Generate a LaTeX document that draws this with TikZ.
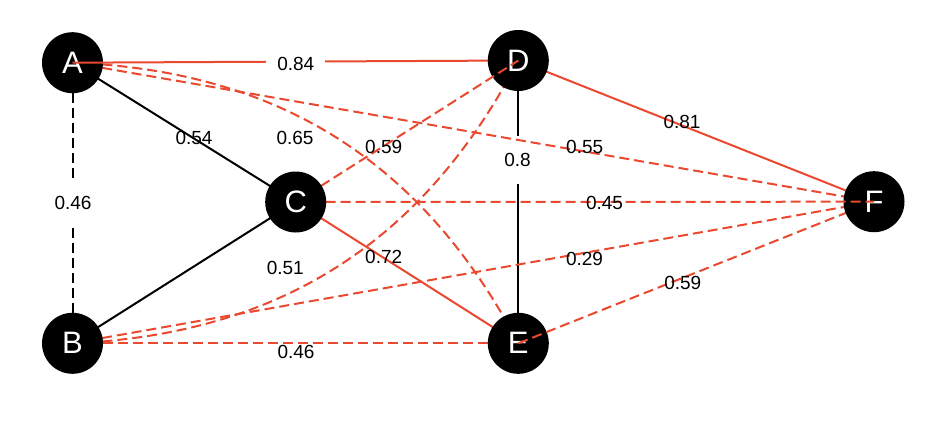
\documentclass[tikz,border=0pt]{standalone}
\usepackage{fontspec}
\setmainfont{Liberation Sans}
\definecolor{edgered}{RGB}{234,72,47}
\pgfdeclarelayer{L1}
\pgfdeclarelayer{L2}
\pgfdeclarelayer{L3}
\pgfdeclarelayer{L4}
\pgfdeclarelayer{L5}
\pgfdeclarelayer{L6}
\pgfsetlayers{L1,L2,L3,L4,L5,L6,main}
\tikzset{
  vtx/.style={circle, fill=black, minimum size=61pt, inner sep=0pt, text=white, font=\fontsize{31}{31}\selectfont},
  redline/.style={draw=edgered, line width=2pt},
  blackline/.style={draw=black, line width=2pt},
  dsh/.style={dash pattern=on 10pt off 5pt},
  wlabel/.style={font=\fontsize{19}{19}\selectfont, inner sep=0pt, text=black},
  blank/.style={fill=white, inner xsep=11pt, inner ysep=17pt}
}
\begin{document}
\begin{tikzpicture}[x=1pt,y=-1pt]
\useasboundingbox (0,0) rectangle (936,428);
\begin{pgfonlayer}{L1}
\fill[white] (0,0) rectangle (936,428);
\end{pgfonlayer}
% nodes
\begin{pgfonlayer}{L2}
\node[vtx] (A) at (72.5,62.7) {A};
\node[vtx] (B) at (72.5,343.3) {B};
\node[vtx] (E) at (518.3,343.3) {E};
\end{pgfonlayer}
\begin{pgfonlayer}{L4}
\node[vtx] (D) at (518.3,60.5) {D};
\node[vtx] (F) at (874,201.7) {F};
\end{pgfonlayer}
\begin{pgfonlayer}{L6}
\node[vtx] (C) at (295.7,202) {C};
\end{pgfonlayer}
% edges below all nodes
\begin{pgfonlayer}{L1}
\draw[blackline,dsh] (A.center) -- (B.center);
\node[wlabel,blank] (lAB) at (73,203) {0.46};
\draw[blackline] (D.center) -- (E.center);
\node[wlabel,blank] (lDE) at (517.5,160) {0.8};
\draw[blackline] (A.center) -- (C.center);
\draw[redline,dsh] (A.center) to[bend left=30] (E.center);
\draw[redline,dsh] (A.center) -- (F.center);
\draw[blackline] (B.center) -- (C.center);
\draw[redline,dsh] (B.center) to[bend right=30] (D.center);
\draw[redline,dsh] (B.center) -- (E.center);
\draw[redline,dsh] (B.center) -- (F.center);
\draw[redline] (C.center) -- (E.center);
\draw[redline] (D.center) -- (F.center);
\end{pgfonlayer}
\begin{pgfonlayer}{L3}
\draw[redline,dsh] (E.center) -- (F.center);
\draw[redline] (A.center) -- (D.center);
\node[wlabel,blank] (lAD) at (295.8,64) {0.84};
\end{pgfonlayer}
\begin{pgfonlayer}{L5}
\draw[redline,dsh] (C.center) -- (F.center);
\draw[redline,dsh] (C.center) -- (D.center);
\end{pgfonlayer}
% labels
\node[wlabel] (lAC) at (194,137.7) {0.54};
\node[wlabel] (lAE) at (295,137.7) {0.65};
\node[wlabel] (lCD) at (383.7,146.7) {0.59};
\node[wlabel] (lAF) at (584.7,146.7) {0.55};
\node[wlabel] (lDF) at (682,121.7) {0.81};
\node[wlabel] (lCF) at (604.5,203.3) {0.45};
\node[wlabel] (lBF) at (584.5,259.2) {0.29};
\node[wlabel] (lEF) at (682.8,282.7) {0.59};
\node[wlabel] (lBD) at (285.3,268.3) {0.51};
\node[wlabel] (lCE) at (383.7,257) {0.72};
\node[wlabel] (lBE) at (296,351.7) {0.46};
\end{tikzpicture}
\end{document}
